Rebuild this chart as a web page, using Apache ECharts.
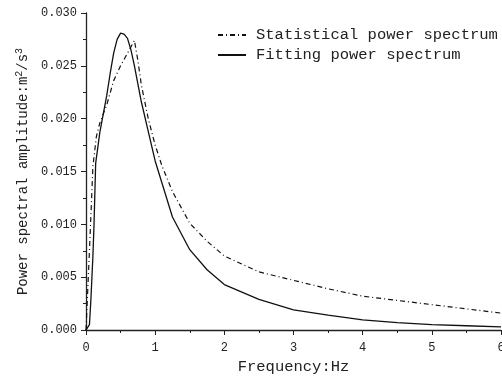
<!DOCTYPE html>
<html>
<head>
<meta charset="utf-8">
<script src="https://cdn.jsdelivr.net/npm/echarts@6/dist/echarts.min.js"></script>
<style>html,body{margin:0;padding:0;background:#fff}#c{width:502px;height:378px}</style>
</head>
<body>
<div id="c"></div>
<script>
var statX = [0, 0.05, 0.1, 0.15, 0.2, 0.3, 0.4, 0.5, 0.6, 0.7, 0.75, 0.8, 0.9, 1.0, 1.1, 1.25, 1.5, 1.75, 2.0, 2.5, 3.0, 3.5, 4.0, 4.5, 5.0, 5.5, 6.0];
var statY = [0, 0.0075, 0.0155, 0.0183, 0.0196, 0.0213, 0.0236, 0.0250, 0.0262, 0.0274, 0.0255, 0.0232, 0.0200, 0.0175, 0.0155, 0.0131, 0.0101, 0.0084, 0.0070, 0.0055, 0.0047, 0.0039, 0.0032, 0.0028, 0.0024, 0.0020, 0.0016];
var fitX = [0, 0.05, 0.07, 0.1, 0.115, 0.14, 0.2, 0.3, 0.35, 0.4, 0.45, 0.5, 0.55, 0.6, 0.65, 0.7, 0.8, 0.9, 1.0, 1.25, 1.5, 1.75, 2.0, 2.5, 3.0, 3.5, 4.0, 4.5, 5.0, 5.5, 6.0];
var fitY = [0, 0.0005, 0.0028, 0.0070, 0.0098, 0.0158, 0.0187, 0.0222, 0.0243, 0.0262, 0.0275, 0.0281, 0.0280, 0.0276, 0.0265, 0.0250, 0.0216, 0.0188, 0.0160, 0.0107, 0.0076, 0.0057, 0.0043, 0.0029, 0.0019, 0.0014, 0.00095, 0.0007, 0.0005, 0.0004, 0.0003];
var seriesNames = ['Statistical power spectrum', 'Fitting power spectrum'];
var xTicks = ['0', '1', '2', '3', '4', '5', '6'];
var yTicks = ['0.000', '0.005', '0.010', '0.015', '0.020', '0.025', '0.030'];
var xTitle = 'Frequency:Hz';

function pairs(xs, ys) { return xs.map(function (x, i) { return [x, ys[i]]; }); }

var FONT = 'Liberation Mono';
var TXT = '#222';
var chart = echarts.init(document.getElementById('c'), null, { renderer: 'canvas' });
chart.setOption({
  animation: false,
  backgroundColor: '#fff',
  grid: { left: 86, right: 1, top: 13, bottom: 48, containLabel: false, outerBoundsMode: 'none' },
  legend: {
    orient: 'vertical', left: 212, top: 22, itemWidth: 28, itemHeight: 12, itemGap: 4,
    itemStyle: { opacity: 0 },
    textStyle: { fontFamily: FONT, fontSize: 15.5, color: TXT, padding: [0, 0, 0, 5] },
    data: seriesNames
  },
  xAxis: {
    type: 'value', min: 0, max: 6, interval: 1,
    name: xTitle, nameLocation: 'middle', nameGap: 27,
    nameTextStyle: { fontFamily: FONT, fontSize: 15.5, color: TXT },
    axisLine: { show: true, lineStyle: { color: '#222', width: 1.3 } },
    axisTick: { show: true, inside: false, length: 5, lineStyle: { color: '#222' } },
    minorTick: { show: true, splitNumber: 2, length: 3, lineStyle: { color: '#222' } },
    axisLabel: { fontFamily: FONT, fontSize: 12, color: TXT, margin: 12, formatter: function (v) { return xTicks[Math.round(v)]; } },
    splitLine: { show: false }
  },
  yAxis: {
    type: 'value', min: 0, max: 0.03, interval: 0.005,
    name: 'Power spectral amplitude:m{s|2}/s{s|3}', nameLocation: 'middle', nameGap: 47,
    nameTextStyle: { fontFamily: FONT, fontSize: 14, color: TXT, rich: { s: { fontFamily: FONT, fontSize: 10, color: TXT, verticalAlign: 'top', padding: [0, 0, 8, 0] } } },
    axisLine: { show: true, lineStyle: { color: '#222', width: 1.3 } },
    axisTick: { show: true, inside: false, length: 5, lineStyle: { color: '#222' } },
    minorTick: { show: true, splitNumber: 2, length: 3, lineStyle: { color: '#222' } },
    axisLabel: { fontFamily: FONT, fontSize: 12, color: TXT, margin: 9, formatter: function (v) { return yTicks[Math.round(v / 0.005)]; } },
    splitLine: { show: false }
  },
  series: [
    {
      name: seriesNames[0], type: 'line', data: pairs(statX, statY), symbol: 'none', smooth: false,
      lineStyle: { color: '#111', width: 1.2, type: [5, 3, 1, 3] }, itemStyle: { color: '#111' }
    },
    {
      name: seriesNames[1], type: 'line', data: pairs(fitX, fitY), symbol: 'none', smooth: false,
      lineStyle: { color: '#111', width: 1.3, type: 'solid' }, itemStyle: { color: '#111' }
    }
  ]
});
</script>
</body>
</html>
